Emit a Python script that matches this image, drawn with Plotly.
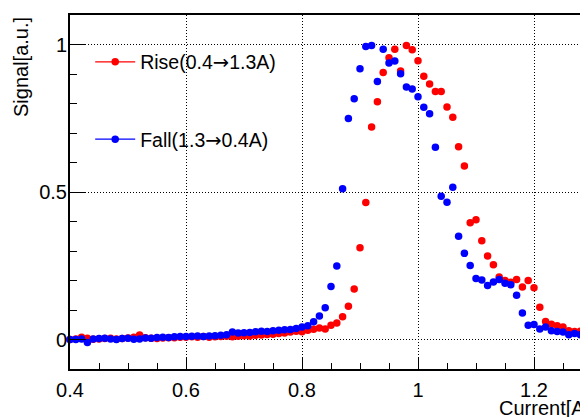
import plotly.graph_objects as go

# Current values (A), 0.40 .. 1.30 in 0.01 steps
current = [round(0.40 + 0.01 * i, 2) for i in range(91)]

rise_signal = [
    0.000, 0.002, 0.008, 0.004, 0.001, 0.002, 0.003, 0.004, 0.002, 0.003,   # 0.40-0.49
    0.005, 0.008, 0.015, 0.006, 0.004, 0.003, 0.005, 0.006, 0.006, 0.008,   # 0.50-0.59
    0.008, 0.009, 0.008, 0.010, 0.008, 0.009, 0.010, 0.011, 0.009, 0.011,   # 0.60-0.69
    0.013, 0.012, 0.014, 0.015, 0.017, 0.018, 0.020, 0.022, 0.025, 0.028,   # 0.70-0.79
    0.026, 0.031, 0.035, 0.039, 0.036, 0.048, 0.056, 0.077, 0.113, 0.171,   # 0.80-0.89
    0.311, 0.464, 0.720, 0.806, 0.905, 0.955, 0.984, 0.910, 0.997, 0.982,   # 0.90-0.99
    0.945, 0.892, 0.866, 0.841, 0.841, 0.788, 0.753, 0.653, 0.588, 0.396,   # 1.00-1.09
    0.406, 0.335, 0.283, 0.253, 0.212, 0.200, 0.194, 0.203, 0.178, 0.200,   # 1.10-1.19
    0.175, 0.109, 0.061, 0.052, 0.047, 0.042, 0.030, 0.027, 0.028, 0.025,   # 1.20-1.29
    0.024,                                                                   # 1.30
]

fall_signal = [
    0.000, 0.000, 0.002, -0.010, 0.002, 0.003, 0.004, 0.002, 0.000, 0.003,  # 0.40-0.49
    0.004, 0.001, 0.002, 0.005, 0.004, 0.007, 0.008, 0.007, 0.009, 0.010,   # 0.50-0.59
    0.010, 0.011, 0.012, 0.010, 0.012, 0.013, 0.014, 0.016, 0.025, 0.022,   # 0.60-0.69
    0.023, 0.024, 0.026, 0.028, 0.027, 0.030, 0.031, 0.033, 0.034, 0.037,   # 0.70-0.79
    0.042, 0.047, 0.060, 0.080, 0.108, 0.180, 0.249, 0.511, 0.749, 0.816,   # 0.80-0.89
    0.918, 0.993, 0.997, 0.875, 0.984, 0.937, 0.944, 0.901, 0.856, 0.849,   # 0.90-0.99
    0.823, 0.787, 0.765, 0.652, 0.486, 0.465, 0.516, 0.350, 0.292, 0.251,   # 1.00-1.09
    0.207, 0.202, 0.183, 0.195, 0.203, 0.191, 0.186, 0.150, 0.090, 0.048,   # 1.10-1.19
    0.051, 0.036, 0.042, 0.030, 0.027, 0.025, 0.016, 0.020, 0.016, 0.018,   # 1.20-1.29
    0.018,                                                                   # 1.30
]

x_tick_vals = [0.4, 0.6, 0.8, 1.0, 1.2]
x_tick_text = ["0.4", "0.6", "0.8", "1", "1.2"]
y_tick_vals = [0, 0.5, 1]
y_tick_text = ["0", "0.5", "1"]

ARROW = "<span style='font-family:DejaVu Sans'>\u2192</span>"
series_names = [f"Rise(0.4{ARROW}1.3A)", f"Fall(1.3{ARROW}0.4A)"]
series_colors = ["#ff0000", "#0000ff"]

FONT = "Liberation Sans, Arial, sans-serif"

# page body has an 8px margin: figure is sized so the plot lands where the reference has it
W, H = 580, 409
ML, MT, MB = 62, 7, 48
PW = W - ML          # plot width in px
PH = H - MT - MB     # plot height in px

fig = go.Figure()

for name, ys, col in zip(series_names, [rise_signal, fall_signal], series_colors):
    fig.add_trace(go.Scatter(
        x=current, y=ys, mode="markers", name=name, showlegend=False,
        marker=dict(color=col, size=7.5, symbol="circle", line=dict(width=0)),
        cliponaxis=False,
    ))

for i, (name, col) in enumerate(zip(series_names, series_colors)):
    fig.add_trace(go.Scatter(
        x=[None], y=[None], mode="lines+markers", name=name,
        legendgroup=f"g{i}",
        line=dict(color=col, width=1.2),
        marker=dict(color=col, size=7.5),
    ))

grid_dash = "1px,2px"

fig.update_layout(
    width=W, height=H,
    margin=dict(l=ML, r=0, t=MT, b=MB),
    paper_bgcolor="white", plot_bgcolor="white",
    font=dict(family=FONT, size=20, color="black"),
    showlegend=True,
    legend=dict(
        x=0.039, y=0.922, xanchor="left", yanchor="top",
        bgcolor="rgba(0,0,0,0)", borderwidth=0,
        font=dict(family=FONT, size=19.5, color="black"),
        tracegroupgap=49, traceorder="grouped",
        itemwidth=40,
    ),
    xaxis=dict(
        range=[0.4, 0.4 + PW / 580],
        tickmode="array", tickvals=x_tick_vals, ticktext=x_tick_text,
        ticks="inside", ticklen=11, tickwidth=1, tickcolor="black",
        minor=dict(ticks="inside", ticklen=6, tickwidth=1, tickcolor="black", dtick=0.05, tick0=0.4, showgrid=False),
        showline=True, linecolor="black", linewidth=2, mirror=True,
        showgrid=True, gridcolor="black", gridwidth=1, griddash=grid_dash,
        zeroline=False, ticklabelstandoff=2,
        tickfont=dict(family=FONT, size=20, color="black"),
    ),
    yaxis=dict(
        range=[-0.1, 1.1],
        tickmode="array", tickvals=y_tick_vals, ticktext=y_tick_text,
        ticks="inside", ticklen=16, tickwidth=1, tickcolor="black",
        minor=dict(ticks="inside", ticklen=7, tickwidth=1, tickcolor="black", dtick=0.1, tick0=0, showgrid=False),
        showline=True, linecolor="black", linewidth=2, mirror=False,
        showgrid=True, gridcolor="black", gridwidth=1, griddash=grid_dash,
        zeroline=False, ticklabelstandoff=-3,
        tickfont=dict(family=FONT, size=20, color="black"),
    ),
    annotations=[
        dict(text="Signal[a.u.]", xref="paper", yref="paper",
             x=(13 - ML) / PW, y=1.0, xanchor="center", yanchor="top",
             textangle=-90, showarrow=False,
             font=dict(family=FONT, size=20, color="black")),
        dict(text="Current[A]", xref="paper", yref="paper",
             x=(584 - ML) / PW, y=(PH + MT - 400) / PH, xanchor="right", yanchor="middle",
             showarrow=False,
             font=dict(family=FONT, size=20, color="black")),
    ],
)

fig.write_html("out.html")
